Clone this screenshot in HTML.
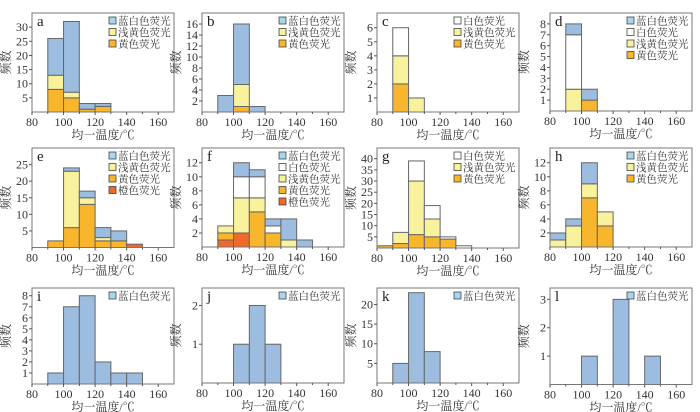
<!DOCTYPE html>
<html><head><meta charset="utf-8">
<style>
body{margin:0;background:#fff;}
svg{display:block;font-family:"Liberation Serif","Noto Serif CJK SC",serif;}
</style></head>
<body>
<svg id="chart" width="700" height="412" viewBox="0 0 700 412" xmlns="http://www.w3.org/2000/svg"></svg>
<script>
// ---- data (counts per 10°C bin, bin start temperature) ----
const aBins=[90,100,110,120], aYellow=[8,5,1,2], aLight=[5,2,0,0], aBlue=[13,25,2,1];
const bBins=[90,100,110], bYellow=[0,1,0], bLight=[0,4,0], bBlue=[3,11,1];
const cBins=[90,100], cYellow=[2,0], cLight=[2,1], cWhite=[2,0];
const dBins=[90,100], dYellow=[0,1], dLight=[2,0], dWhite=[5,0], dBlue=[1,1];
const eBins=[90,100,110,120,130,140], eOrange=[0,0,0,0,0,1], eYellow=[2,6,13,2,2,0], eLight=[0,17,2,1,0,0], eBlue=[0,1,2,3,3,0];
const fBins=[90,100,110,120,130,140], fOrange=[1,2,0,0,0,0], fYellow=[1,0,5,2,0,0], fLight=[1,5,2,0,1,0], fWhite=[0,3,3,1,0,0], fBlue=[0,2,1,1,3,1];
const gBins=[80,90,100,110,120,130], gYellow=[1,2,6,5,4,0], gLight=[0,5,24,8,0,0], gWhite=[0,0,9,6,1,1];
const hBins=[80,90,100,110], hYellow=[0,0,7,3], hLight=[1,3,2,2], hBlue=[1,1,3,0];
const iBins=[90,100,110,120,130,140], iBlue=[1,7,8,2,1,1];
const jBins=[100,110,120], jBlue=[1,2,1];
const kBins=[90,100,110], kBlue=[5,23,8];
const lBins=[100,120,140], lBlue=[1,3,1];
const xTicks=[80,100,120,140,160];
const aTicks=[5,10,15,20,25,30], bTicks=[2,4,6,8,10,12,14,16], cTicks=[1,2,3,4,5,6], dTicks=[1,2,3,4,5,6,7,8];
const eTicks=[5,10,15,20,25], fTicks=[2,4,6,8,10,12], gTicks=[5,10,15,20,25,30,35,40], hTicks=[2,4,6,8,10,12];
const iTicks=[1,2,3,4,5,6,7,8], jTicks=[1,2], kTicks=[5,10,15,20], lTicks=[1,2,3];

const COL={orange:'#ef6a2a',yellow:'#f8b62d',light:'#f8f29c',white:'#ffffff',blue:'#9dbde0'};
const LEG={blue:'蓝白色荧光',white:'白色荧光',light:'浅黄色荧光',yellow:'黄色荧光',orange:'橙色荧光'};
const ORDER=['orange','yellow','light','white','blue'];
const LORDER=['blue','white','light','yellow','orange'];
const panels=[
 {id:'a',L:32,T:13,B:112,max:35,bins:aBins,s:{yellow:aYellow,light:aLight,blue:aBlue},ticks:aTicks},
 {id:'b',L:202,T:13,B:112,max:18,bins:bBins,s:{yellow:bYellow,light:bLight,blue:bBlue},ticks:bTicks},
 {id:'c',L:377,T:13,B:112,max:7.05,bins:cBins,s:{yellow:cYellow,light:cLight,white:cWhite},ticks:cTicks},
 {id:'d',L:550,T:13,B:111,max:9,bins:dBins,s:{yellow:dYellow,light:dLight,white:dWhite,blue:dBlue},ticks:dTicks},
 {id:'e',L:32,T:148,B:247.5,max:30,bins:eBins,s:{orange:eOrange,yellow:eYellow,light:eLight,blue:eBlue},ticks:eTicks},
 {id:'f',L:202,T:148,B:247,max:14.1,bins:fBins,s:{orange:fOrange,yellow:fYellow,light:fLight,white:fWhite,blue:fBlue},ticks:fTicks},
 {id:'g',L:377,T:148,B:248,max:44.8,bins:gBins,s:{yellow:gYellow,light:gLight,white:gWhite},ticks:gTicks},
 {id:'h',L:550,T:148,B:247,max:14.1,bins:hBins,s:{yellow:hYellow,light:hLight,blue:hBlue},ticks:hTicks},
 {id:'i',L:32,T:288,B:384,max:8.7,bins:iBins,s:{blue:iBlue},ticks:iTicks},
 {id:'j',L:202,T:288,B:383,max:2.45,bins:jBins,s:{blue:jBlue},ticks:jTicks},
 {id:'k',L:377,T:288,B:383,max:24.2,bins:kBins,s:{blue:kBlue},ticks:kTicks},
 {id:'l',L:550,T:288,B:384.5,max:3.4,bins:lBins,s:{blue:lBlue},ticks:lTicks}
];
const W=142, NS='http://www.w3.org/2000/svg', svg=document.getElementById('chart');
function mk(tag,attrs,parent,text){const e=document.createElementNS(NS,tag);for(const k in attrs)e.setAttribute(k,attrs[k]);if(text!==undefined)e.textContent=text;parent.appendChild(e);return e;}
panels.forEach(p=>{
  const g=mk('g',{},svg);
  
  
  const xs=v=>p.L+(v-80)/90*W;
  const ys=v=>p.B-v/p.max*(p.B-p.T);
  p.bins.forEach((b,i)=>{
    let acc=0;
    ORDER.forEach(k=>{
      if(!p.s[k])return;const v=p.s[k][i];if(!v)return;
      const r=mk('rect',{x:xs(b),y:ys(acc+v),width:xs(b+10)-xs(b),height:ys(acc)-ys(acc+v),fill:COL[k],stroke:'#666','stroke-width':1},g);
      
      
      acc+=v;
    });
  });
  const fr=mk('rect',{x:p.L,y:p.T,width:W,height:p.B-p.T,fill:'none',stroke:'#777','stroke-width':1},g);
  
  
  p.ticks.forEach(t=>{
    mk('line',{x1:p.L-3,x2:p.L,y1:ys(t),y2:ys(t),stroke:'#555'},g);
    const tx=mk('text',{x:p.L-4,y:ys(t)+4,'text-anchor':'end','font-size':12,fill:'#333'},g,t);
    
    
  });
  xTicks.forEach(t=>{
    mk('line',{x1:xs(t),x2:xs(t),y1:p.B,y2:p.B+3,stroke:'#555'},g);
    const tx=mk('text',{x:xs(t),y:p.B+14,'text-anchor':'middle','font-size':12,fill:'#333'},g,t);
    
    
  });
  [90,110,130,150].forEach(t=>mk('line',{x1:xs(t),x2:xs(t),y1:p.B,y2:p.B+2,stroke:'#555'},g));
  const lt=mk('text',{x:p.L+5,y:p.T+13,'font-size':15,fill:'#222'},g,p.id);
  
  
  const xl=mk('text',{x:p.L+W/2,y:p.B+27,'text-anchor':'middle','font-size':12,fill:'#333'},g,'均一温度/℃');
  
  
  const cy=(p.T+p.B)/2, lx=p.L-22;
  const yl=mk('text',{x:lx,y:cy,'text-anchor':'middle','font-size':12,fill:'#333',transform:`rotate(-90 ${lx} ${cy})`},g,'频数');
  
  
  let row=0;
  LORDER.forEach(k=>{
    if(!p.s[k])return;
    const yy=p.T+8+row*11.5;
    const sw=mk('rect',{x:p.L+77,y:yy-4,width:7,height:7,fill:k==='blue'?'#a9d6ef':COL[k],stroke:'#444','stroke-width':0.8},g);
    
    
    const t=mk('text',{x:p.L+86,y:yy+3.5,'font-size':10.5,fill:'#333'},g,LEG[k]);
    
    
    row++;
  });
});
</script>
</body></html>
